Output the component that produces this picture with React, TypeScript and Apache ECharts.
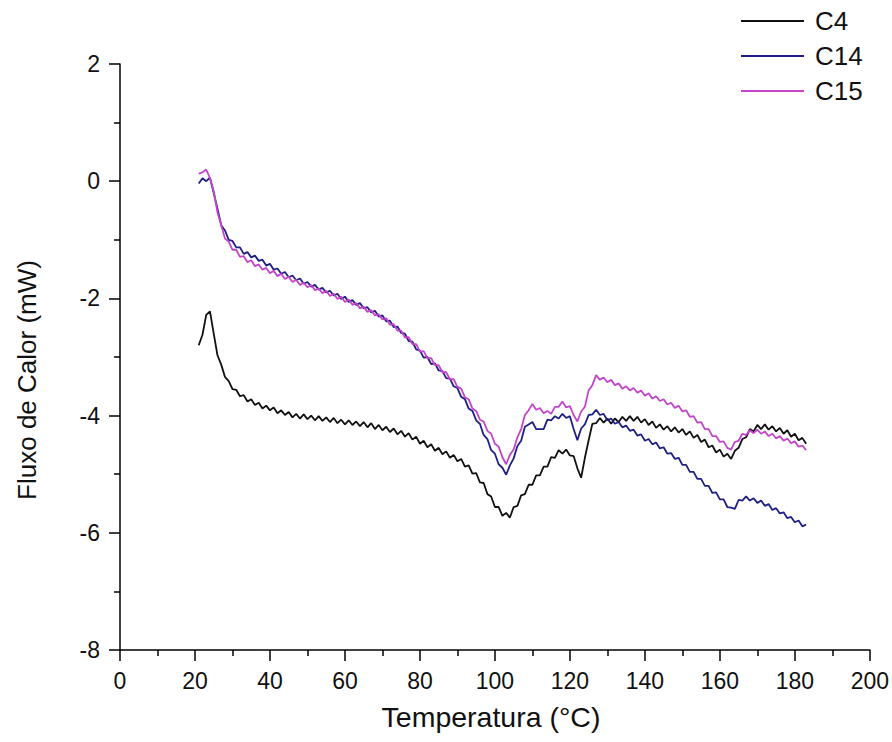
import React, { useEffect, useRef } from "react";
import * as echarts from "echarts";

const temperature: number[] = [
  21, 22, 23, 24, 25, 26, 27, 28, 29, 30, 31, 32, 33, 34, 35, 36, 37, 38, 39, 40,
  41, 42, 43, 44, 45, 46, 47, 48, 49, 50, 51, 52, 53, 54, 55, 56, 57, 58, 59, 60,
  61, 62, 63, 64, 65, 66, 67, 68, 69, 70, 71, 72, 73, 74, 75, 76, 77, 78, 79, 80,
  81, 82, 83, 84, 85, 86, 87, 88, 89, 90, 91, 92, 93, 94, 95, 96, 97, 98, 99, 100,
  101, 102, 103, 104, 105, 106, 107, 108, 109, 110, 111, 112, 113, 114, 115, 116, 117, 118, 119, 120,
  121, 122, 123, 124, 125, 126, 127, 128, 129, 130, 131, 132, 133, 134, 135, 136, 137, 138, 139, 140,
  141, 142, 143, 144, 145, 146, 147, 148, 149, 150, 151, 152, 153, 154, 155, 156, 157, 158, 159, 160,
  161, 162, 163, 164, 165, 166, 167, 168, 169, 170, 171, 172, 173, 174, 175, 176, 177, 178, 179, 180,
  181, 182, 183,
];

const c4: number[] = [
  -2.8, -2.62, -2.28, -2.22, -2.6, -2.97, -3.13, -3.34, -3.41, -3.55, -3.56, -3.67, -3.65, -3.76, -3.72, -3.82, -3.78, -3.88, -3.83, -3.91,
  -3.86, -3.96, -3.91, -3.99, -3.94, -4.03, -3.97, -4.05, -3.98, -4.06, -4.0, -4.08, -4.01, -4.09, -4.03, -4.11, -4.04, -4.13, -4.07, -4.15,
  -4.08, -4.16, -4.1, -4.18, -4.11, -4.2, -4.13, -4.23, -4.16, -4.25, -4.19, -4.28, -4.22, -4.32, -4.26, -4.36, -4.3, -4.41, -4.36, -4.48,
  -4.43, -4.54, -4.49, -4.6, -4.55, -4.66, -4.61, -4.72, -4.67, -4.78, -4.74, -4.87, -4.85, -4.99, -4.98, -5.14, -5.15, -5.34, -5.38, -5.56,
  -5.56, -5.71, -5.66, -5.74, -5.56, -5.54, -5.36, -5.34, -5.18, -5.18, -5.02, -5.02, -4.87, -4.87, -4.71, -4.72, -4.59, -4.65, -4.58, -4.68,
  -4.69, -4.9, -5.06, -4.72, -4.42, -4.14, -4.13, -4.04, -4.12, -4.05, -4.14, -4.05, -4.11, -4.02, -4.09, -4.01, -4.09, -4.02, -4.12, -4.06,
  -4.16, -4.1, -4.21, -4.15, -4.24, -4.18, -4.27, -4.2, -4.29, -4.23, -4.33, -4.27, -4.38, -4.33, -4.45, -4.41, -4.54, -4.51, -4.63, -4.58,
  -4.7, -4.65, -4.74, -4.6, -4.55, -4.4, -4.37, -4.23, -4.27, -4.16, -4.23, -4.15, -4.24, -4.18, -4.27, -4.21, -4.31, -4.25, -4.36, -4.31,
  -4.42, -4.38, -4.48,
];

const c14: number[] = [
  -0.04, 0.05, 0.0, 0.06, -0.2, -0.47, -0.75, -0.84, -1.0, -1.02, -1.13, -1.13, -1.24, -1.21, -1.3, -1.27, -1.36, -1.34, -1.44, -1.41,
  -1.51, -1.49, -1.58, -1.55, -1.64, -1.61, -1.69, -1.66, -1.75, -1.72, -1.8, -1.77, -1.85, -1.82, -1.9, -1.87, -1.95, -1.92, -2.01, -1.97,
  -2.06, -2.03, -2.11, -2.08, -2.17, -2.15, -2.24, -2.21, -2.31, -2.29, -2.39, -2.38, -2.49, -2.48, -2.59, -2.6, -2.73, -2.74, -2.87, -2.89,
  -3.01, -3.0, -3.12, -3.11, -3.23, -3.24, -3.36, -3.37, -3.5, -3.53, -3.68, -3.72, -3.88, -3.92, -4.08, -4.14, -4.33, -4.4, -4.59, -4.65,
  -4.83, -4.89, -5.01, -4.85, -4.73, -4.52, -4.43, -4.19, -4.15, -4.11, -4.23, -4.23, -4.23, -4.07, -4.08, -4.01, -4.05, -3.97, -4.04, -4.01,
  -4.23, -4.42, -4.22, -4.15, -3.99, -3.98, -3.9, -3.99, -3.97, -4.08, -4.05, -4.14, -4.11, -4.2, -4.17, -4.26, -4.24, -4.34, -4.32, -4.43,
  -4.4, -4.49, -4.46, -4.56, -4.54, -4.65, -4.64, -4.74, -4.72, -4.84, -4.84, -4.96, -4.96, -5.08, -5.08, -5.2, -5.2, -5.32, -5.31, -5.43,
  -5.43, -5.56, -5.57, -5.59, -5.44, -5.45, -5.38, -5.45, -5.41, -5.49, -5.45, -5.54, -5.51, -5.61, -5.58, -5.67, -5.65, -5.75, -5.73, -5.82,
  -5.79, -5.89, -5.86,
];

const c15: number[] = [
  0.13, 0.15, 0.2, 0.05, -0.17, -0.53, -0.75, -0.98, -1.03, -1.17, -1.17, -1.29, -1.28, -1.38, -1.35, -1.45, -1.42, -1.51, -1.48, -1.57,
  -1.53, -1.62, -1.58, -1.67, -1.63, -1.72, -1.68, -1.77, -1.73, -1.81, -1.77, -1.86, -1.83, -1.91, -1.87, -1.96, -1.92, -2.01, -1.97, -2.06,
  -2.02, -2.11, -2.08, -2.17, -2.14, -2.23, -2.2, -2.29, -2.27, -2.36, -2.34, -2.45, -2.44, -2.55, -2.55, -2.67, -2.66, -2.78, -2.78, -2.91,
  -2.9, -3.02, -3.02, -3.14, -3.14, -3.26, -3.26, -3.38, -3.38, -3.51, -3.54, -3.69, -3.72, -3.88, -3.92, -4.07, -4.1, -4.26, -4.31, -4.48,
  -4.53, -4.71, -4.83, -4.67, -4.58, -4.37, -4.23, -3.99, -3.91, -3.8, -3.9, -3.87, -3.96, -3.92, -3.97, -3.85, -3.85, -3.76, -3.86, -3.84,
  -3.99, -4.1, -3.93, -3.85, -3.57, -3.48, -3.31, -3.39, -3.35, -3.43, -3.39, -3.48, -3.45, -3.54, -3.5, -3.57, -3.53, -3.61, -3.57, -3.66,
  -3.62, -3.71, -3.67, -3.75, -3.72, -3.81, -3.78, -3.87, -3.83, -3.93, -3.91, -4.02, -4.01, -4.12, -4.11, -4.23, -4.23, -4.35, -4.35, -4.45,
  -4.44, -4.55, -4.58, -4.45, -4.43, -4.31, -4.33, -4.25, -4.3, -4.24, -4.31, -4.27, -4.35, -4.31, -4.39, -4.35, -4.43, -4.39, -4.47, -4.44,
  -4.53, -4.51, -4.59,
];

const seriesNames = ["C4", "C14", "C15"];
const seriesColors = ["#111111", "#1f1f85", "#c444cc"];
const xTicks = { min: 0, max: 200, interval: 20 };
const yTicks = { min: -8, max: 2, interval: 2 };

const FONT = "'Liberation Sans', Arial, sans-serif";

export default function App() {
  const ref = useRef<HTMLDivElement>(null);
  useEffect(() => {
    if (!ref.current) return;
    const chart = echarts.init(ref.current, undefined, { renderer: "svg" });
    const allData = [c4, c14, c15];
    const axisCommon = {
      axisLine: { show: true, onZero: false, lineStyle: { color: "#000", width: 1.5 } },
      axisTick: { show: true, inside: false, length: 11, lineStyle: { color: "#000", width: 1.5 } },
      minorTick: { show: true, splitNumber: 2, length: 6, lineStyle: { color: "#000", width: 1.5 } },
      splitLine: { show: false },
      minorSplitLine: { show: false },
    };
    chart.setOption({
      animation: false,
      backgroundColor: "#fff",
      grid: { left: 120, right: 22, top: 64, bottom: 92, containLabel: false },
      legend: {
        orient: "vertical",
        left: 741,
        top: 8,
        icon: "rect",
        itemWidth: 63,
        itemHeight: 2,
        itemGap: 9,
        padding: 0,
        data: seriesNames,
        textStyle: { fontSize: 26, lineHeight: 25, color: "#111", fontFamily: FONT, padding: [0, 0, 0, 6] },
      },
      xAxis: {
        type: "value",
        min: xTicks.min,
        max: xTicks.max,
        interval: xTicks.interval,
        ...axisCommon,
        axisLabel: { fontSize: 23, color: "#111", margin: 19, fontFamily: FONT },
      },
      yAxis: {
        type: "value",
        min: yTicks.min,
        max: yTicks.max,
        interval: yTicks.interval,
        ...axisCommon,
        axisLabel: { fontSize: 23, color: "#111", margin: 20, fontFamily: FONT },
      },
      graphic: [
        {
          type: "text",
          x: 491,
          y: 717,
          style: {
            text: "Temperatura (°C)",
            font: `28.5px ${FONT}`,
            fill: "#111",
            align: "center",
            verticalAlign: "middle",
          },
        },
        {
          type: "text",
          x: 27,
          y: 380,
          rotation: Math.PI / 2,
          style: {
            text: "Fluxo de Calor (mW)",
            font: `26px ${FONT}`,
            fill: "#111",
            align: "center",
            verticalAlign: "middle",
          },
        },
      ],
      series: seriesNames.map((name, i) => ({
        name,
        type: "line",
        showSymbol: false,
        symbol: "none",
        color: seriesColors[i],
        lineStyle: { color: seriesColors[i], width: 1.8 },
        data: temperature.map((t, k) => [t, allData[i][k]]),
      })),
    });
    return () => chart.dispose();
  }, []);
  return (
    <div
      ref={ref}
      style={{ position: "fixed", left: 0, top: 0, width: 892, height: 742, background: "#fff" }}
    />
  );
}
